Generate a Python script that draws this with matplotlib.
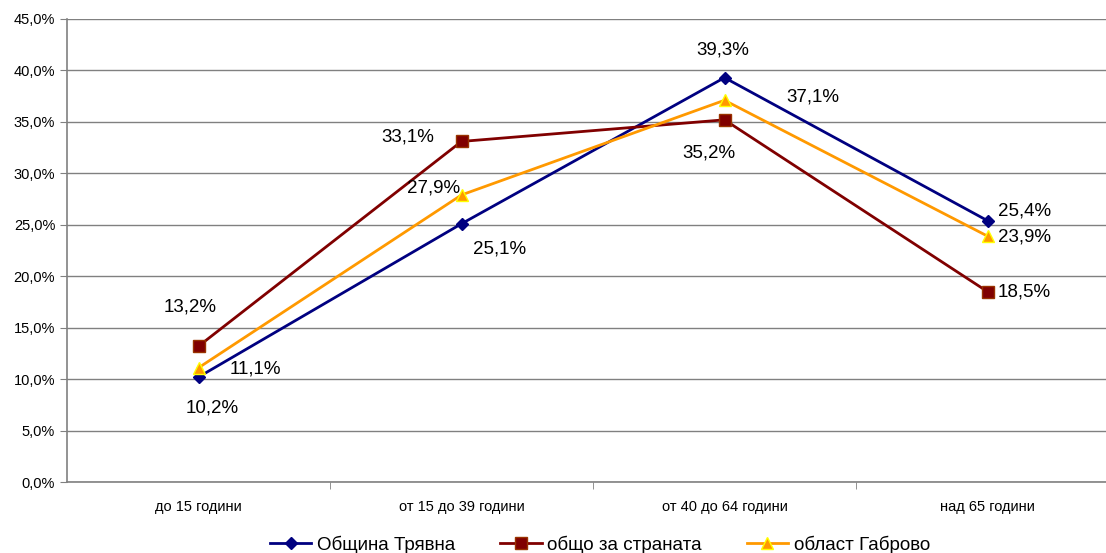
import matplotlib
matplotlib.use("Agg")
import matplotlib.pyplot as plt
import matplotlib.ticker as ticker

plt.rcParams["font.family"] = ["Liberation Sans", "DejaVu Sans"]

categories = ["до 15 години", "от 15 до 39 години", "от 40 до 64 години", "над 65 години"]
series_names = ["Община Трявна", "общо за страната", "област Габрово"]
tryavna = [10.2, 25.1, 39.3, 25.4]
country = [13.2, 33.1, 35.2, 18.5]
gabrovo = [11.1, 27.9, 37.1, 23.9]

# label offsets in pixels (dx, dy) for each point
_OFF_TRYAVNA = [(14, -31), (38, -25), (-2, 28), (37, 10)]
_OFF_COUNTRY = [(-8, 39), (-54, 4), (-16, -33), (37, 0)]
_OFF_GABROVO = [(57, -1), (-28, 7), (88, 3), (37, -1)]

_BLUE = "#000080"
_RED = "#800000"
_ORANGE = "#FF9900"
_GRID = "#808080"

fig = plt.figure(figsize=(11.06, 5.53), dpi=100)
ax = fig.add_axes([67 / 1106, 71 / 553, 1052 / 1106, 463 / 553])

x = list(range(len(categories)))
styles = [
    (tryavna, _BLUE, dict(marker="D", markersize=6, markerfacecolor=_BLUE, markeredgecolor=_BLUE), _OFF_TRYAVNA),
    (country, _RED, dict(marker="s", markersize=8, markerfacecolor=_RED, markeredgecolor="#993300"), _OFF_COUNTRY),
    (gabrovo, _ORANGE, dict(marker="^", markersize=8, markerfacecolor=_ORANGE, markeredgecolor="#FFFF00"), _OFF_GABROVO),
]

for (vals, col, mk, offs), name in zip(styles, series_names):
    ax.plot(x, vals, color=col, linewidth=2, label=name, zorder=3, **mk)
    for xi, v, (dx, dy) in zip(x, vals, offs):
        ax.annotate(f"{v:.1f}%".replace(".", ","), (xi, v), xytext=(dx, dy),
                    textcoords="offset pixels", ha="center", va="center",
                    fontsize=13.5, color="black", zorder=4)

ax.set_xlim(-0.5, 3.5)
ax.set_ylim(0, 45)
ax.yaxis.set_major_locator(ticker.MultipleLocator(5))
ax.yaxis.set_major_formatter(ticker.FuncFormatter(lambda v, _p: f"{v:.1f}%".replace(".", ",")))
ax.grid(axis="y", color=_GRID, linewidth=1, zorder=0)

ax.set_xticks(x)
ax.set_xticklabels(categories, fontsize=10.5)
ax.set_xticks([0.5, 1.5, 2.5], minor=True)
ax.tick_params(axis="x", which="major", length=0, pad=13)
ax.tick_params(axis="x", which="minor", length=5, color=_GRID, direction="out")
ax.tick_params(axis="y", length=5, color=_GRID, labelsize=10.5, direction="out")

for side in ("top", "right"):
    ax.spines[side].set_visible(False)
for side in ("left", "bottom"):
    ax.spines[side].set_color(_GRID)
    ax.spines[side].set_linewidth(1.2)

fig.legend(loc="lower center", bbox_to_anchor=(600 / 1106, -0.032), ncol=3, frameon=False,
           fontsize=13.5, handlelength=2.2, handletextpad=0.3, columnspacing=2.4)

fig.savefig("out.png", dpi=100)
